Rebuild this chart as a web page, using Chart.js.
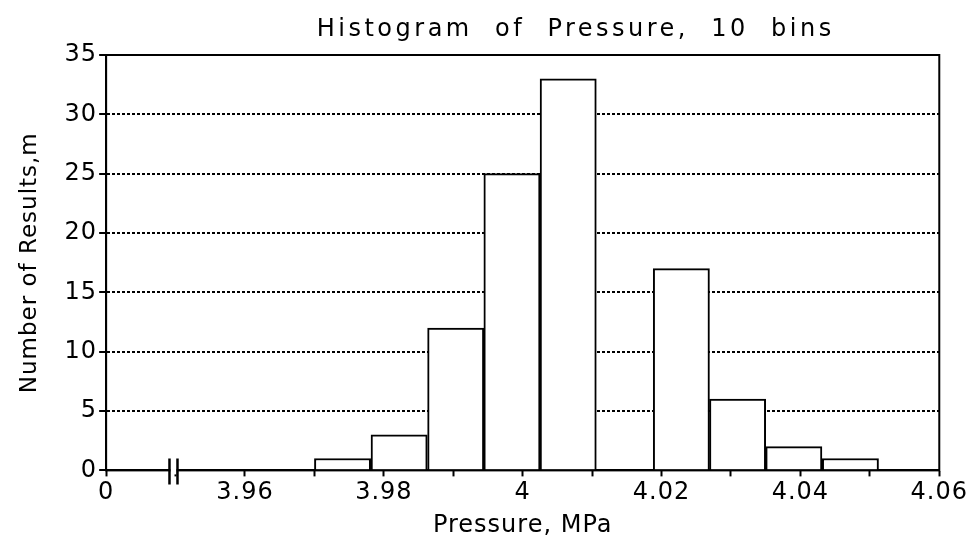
<!DOCTYPE html>
<html>
<head>
<meta charset="utf-8">
<script src="https://cdn.jsdelivr.net/npm/chart.js@4/dist/chart.umd.min.js"></script>
<style>
  html, body { margin: 0; padding: 0; background: #fff; }
  #wrap { width: 970px; height: 548px; }
</style>
</head>
<body>
<div id="wrap"><canvas id="histChart" width="970" height="548"></canvas></div>
<script>
// bin edges (MPa) and counts
let binEdges = [3.9700, 3.9781, 3.9863, 3.9944, 4.0025, 4.0106, 4.0188, 4.0269, 4.0350, 4.0431, 4.0513];
let counts = [1, 3, 12, 25, 33, 0, 17, 6, 2, 1];
let xMin = 3.94, xMax = 4.06;
let yMin = 0, yMax = 35;
let titleText = "Histogram  of  Pressure,  10  bins";

let fontFamily = "'DejaVu Sans', Verdana, sans-serif";

let barData = counts.map((c, i) => ({ x: (binEdges[i] + binEdges[i + 1]) / 2, y: c }));

// wider letter spacing for all the chart's text, like the old plot font
let spacingPlugin = {
    id: "spacing",
    beforeUpdate(chart) { chart.ctx.letterSpacing = "1px"; },
    beforeDraw(chart) { chart.ctx.letterSpacing = "1px"; }
};

// draws the frame, the axis break and the title
let framePlugin = {
    id: "frame",
    afterDraw(chart) {
        let ctx = chart.ctx, a = chart.chartArea, xs = chart.scales.x;
        ctx.save();
        ctx.strokeStyle = "#000";
        ctx.lineWidth = 2;
        ctx.strokeRect(a.left, a.top, a.right - a.left, a.bottom - a.top);

        // axis break "||"
        let bx = xs.getPixelForValue(3.9497);
        ctx.fillStyle = "#fff";
        ctx.fillRect(bx - 3, a.bottom - 4, 6, 8);
        ctx.lineWidth = 2.5;
        ctx.beginPath();
        ctx.moveTo(bx - 4, a.bottom - 12); ctx.lineTo(bx - 4, a.bottom + 14);
        ctx.moveTo(bx + 4, a.bottom - 12); ctx.lineTo(bx + 4, a.bottom + 14);
        ctx.stroke();

        // title
        ctx.fillStyle = "#000";
        ctx.font = "24px " + fontFamily;
        ctx.letterSpacing = "3.5px";
        ctx.textAlign = "center";
        ctx.textBaseline = "middle";
        ctx.fillText(titleText, (a.left + a.right) / 2 + 53, 30);
        ctx.restore();
    }
};

new Chart(document.getElementById("histChart"), {
    type: "bar",
    data: {
        datasets: [{
            data: barData,
            backgroundColor: "#fff",
            borderColor: "#000",
            borderWidth: 2,
            barPercentage: 1,
            categoryPercentage: 1
        }]
    },
    options: {
        responsive: false,
        animation: false,
        layout: { padding: { top: 55, right: 30, left: 16, bottom: 8 } },
        plugins: {
            legend: { display: false },
            tooltip: { enabled: false },
            title: { display: false }
        },
        scales: {
            x: {
                type: "linear",
                min: xMin,
                max: xMax,
                offset: false,
                border: { display: true, color: "#000", width: 2 },
                grid: { drawOnChartArea: false, drawTicks: true, offset: false, tickLength: 6, color: "#000", tickWidth: 2 },
                ticks: {
                    stepSize: 0.01,
                    color: "#000",
                    font: { family: fontFamily, size: 24 },
                    padding: 2,
                    maxRotation: 0,
                    autoSkip: false,
                    callback: v => {
                        let h = Math.round(v * 100);
                        if (h === 394) return "0";
                        return h % 2 === 0 ? String(+v.toFixed(2)) : "";
                    }
                },
                title: {
                    display: true,
                    text: "Pressure, MPa",
                    color: "#000",
                    font: { family: fontFamily, size: 24 },
                    padding: { top: 2, bottom: 0 }
                }
            },
            y: {
                min: yMin,
                max: yMax,
                border: { display: true, color: "#000", width: 2, dash: [3, 2] },
                grid: {
                    color: c => (c.tick && c.tick.value % 5 === 0 && c.tick.value > 0 && c.tick.value < 35) ? "#000" : "rgba(0,0,0,0)",
                    lineWidth: 2,
                    drawTicks: true,
                    tickLength: 7,
                    tickColor: "#000",
                    tickWidth: 2,
                    tickBorderDash: []
                },
                ticks: {
                    stepSize: 2.5,
                    color: "#000",
                    font: { family: fontFamily, size: 24 },
                    padding: 2,
                    callback: v => (v % 5 === 0 ? String(v) : "")
                },
                title: {
                    display: true,
                    text: "Number of Results,m",
                    color: "#000",
                    font: { family: fontFamily, size: 23 },
                    padding: { top: 0, bottom: 19 }
                }
            }
        }
    },
    plugins: [spacingPlugin, framePlugin]
});
</script>
</body>
</html>
